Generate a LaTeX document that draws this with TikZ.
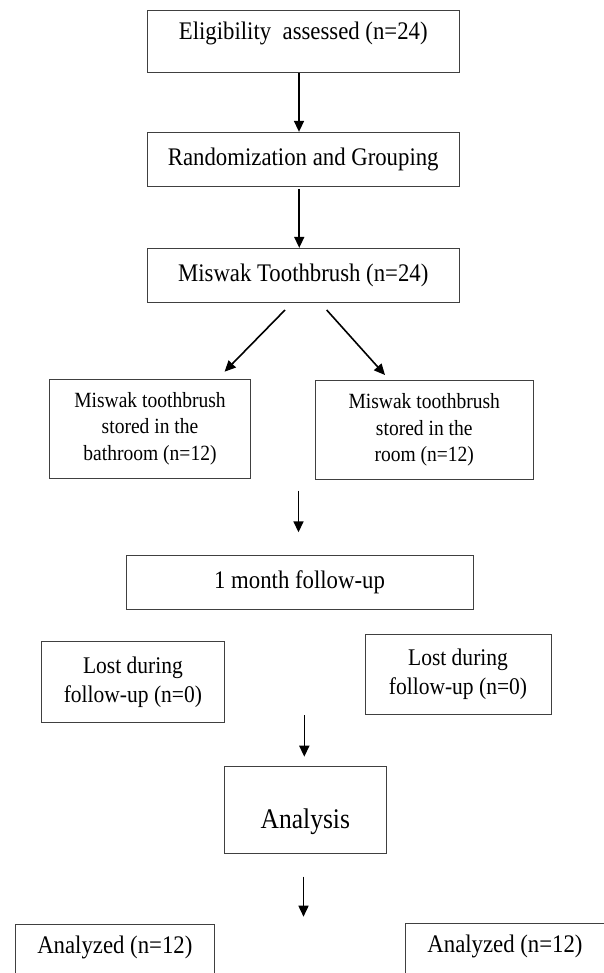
\documentclass[tikz,border=0pt]{standalone}
\usepackage{fontspec}
\setmainfont{Liberation Serif}[FakeStretch=0.9]
\usetikzlibrary{arrows.meta}
\tikzset{
  flowbox/.style={draw=black!75, line width=0.9pt, inner sep=0pt, align=center,
    font=\fontsize{25.3}{30}\selectfont},
  smallbox/.style={flowbox, font=\fontsize{21.7}{26.7}\selectfont},
  lostbox/.style={flowbox, font=\fontsize{23.9}{28.7}\selectfont},
  flowarrow/.style={-{Triangle[length=11pt,width=10pt]}, line width=1.6pt},
}
\begin{document}
\begin{tikzpicture}[x=1pt,y=-1pt]
   \useasboundingbox (0,0) rectangle (604,973);
   \clip (0,0) rectangle (604,973);
   % main column
   \node[flowbox, minimum width=311.5pt, minimum height=62.7pt, text height=19pt, text depth=22.3pt]
     (elig) at (303.25,41.35) {Eligibility~ assessed (n=24)};
   \node[flowbox, minimum width=311.5pt, minimum height=53.7pt] (rand) at (303.25,159.15) {Randomization and Grouping};
   \node[flowbox, minimum width=311.5pt, minimum height=54pt] (mis) at (303.25,275.3) {Miswak Toothbrush (n=24)};
   % the two groups
   \node[smallbox, minimum width=200.7pt, minimum height=99.3pt] (bath) at (150,428.65)
     {Miswak toothbrush\\stored in the\\bathroom (n=12)};
   \node[smallbox, minimum width=218.5pt, minimum height=98.6pt] (room) at (424.25,430)
     {Miswak toothbrush\\stored in the\\room (n=12)};
   \node[flowbox, minimum width=347pt, minimum height=53.3pt] (follow) at (299.5,582.35) {1 month follow-up};
   \node[lostbox, minimum width=182.6pt, minimum height=81pt] (lostL) at (132.9,682.2) {Lost during\\follow-up (n=0)};
   \node[lostbox, minimum width=186pt, minimum height=79.7pt] (lostR) at (458,674.15) {Lost during\\follow-up (n=0)};
   \node[flowbox, font=\fontsize{28.4}{34}\selectfont, minimum width=161.4pt, minimum height=87.3pt,
     text height=43.9pt, text depth=7.1pt] (anal) at (305.3,809.65) {Analysis};
   \node[flowbox, minimum width=198.8pt, minimum height=62pt, text height=18.9pt, text depth=23.3pt]
     (anL) at (114.8,955.3) {Analyzed (n=12)};
   \node[flowbox, minimum width=200pt, minimum height=62pt, text height=18.9pt, text depth=23.3pt]
     (anR) at (505,954.3) {Analyzed (n=12)};
   % loose arrow ends
   \coordinate (dl0) at (285,310);     \coordinate (dl1) at (224.6,371.7);
   \coordinate (dr0) at (326.7,310);   \coordinate (dr1) at (385,375);
   \coordinate (g0) at (298.5,490.7);  \coordinate (g1) at (298.5,532.3);
   \coordinate (l0) at (304.3,715);    \coordinate (l1) at (304.3,756.7);
   \coordinate (r0) at (303.5,876.7);  \coordinate (r1) at (303.5,916.7);
   \draw[flowarrow] ([xshift=-4.25pt]elig.south) -- ([xshift=-4.25pt]rand.north);
   \draw[flowarrow, shorten <=2.7pt] ([xshift=-4pt]rand.south) -- ([xshift=-4pt]mis.north);
   \draw[flowarrow] (dl0) -- (dl1);
   \draw[flowarrow] (dr0) -- (dr1);
   \draw[flowarrow] (g0) -- (g1);
   \draw[flowarrow] (l0) -- (l1);
   \draw[flowarrow] (r0) -- (r1);
\end{tikzpicture}
\end{document}
